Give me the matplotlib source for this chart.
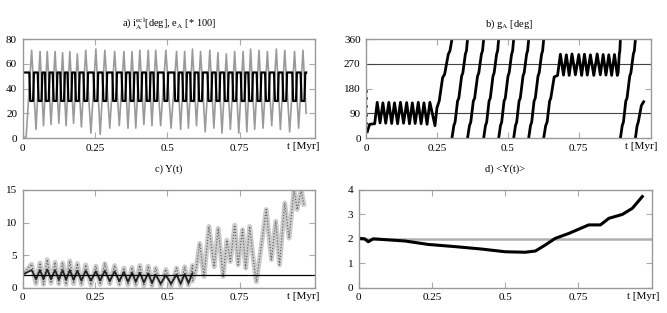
import numpy as np
import matplotlib
matplotlib.use("Agg")
import matplotlib.pyplot as plt
from matplotlib.transforms import blended_transform_factory

plt.rcParams['font.family'] = ['Liberation Serif', 'DejaVu Serif']
plt.rcParams['mathtext.fontset'] = 'stix'

# ---- panel a: inclination (grey) and eccentricity*100 (black) ----
a_start_t = [0.0, 0.012]
a_start_i = [0.0, 1.0]
a_peak_t = [0.031, 0.060, 0.085, 0.112, 0.138, 0.163, 0.189, 0.218, 0.253, 0.284,
            0.318, 0.350, 0.378, 0.405, 0.434, 0.460, 0.495, 0.532, 0.560, 0.587,
            0.615, 0.647, 0.675, 0.704, 0.733, 0.762, 0.788, 0.817, 0.846, 0.877,
            0.906, 0.940, 0.969]
a_peak_i = [71, 70, 70, 70, 69, 70, 68, 71, 72, 71, 70, 70, 70, 71, 71, 71, 71,
            70, 70, 72, 70, 71, 69, 68, 70, 70, 72, 71, 70, 72, 71, 70, 71]
a_trough_t = [0.046, 0.072, 0.098, 0.125, 0.150, 0.176, 0.203, 0.236, 0.268, 0.301,
              0.334, 0.364, 0.391, 0.419, 0.447, 0.477, 0.513, 0.546, 0.573, 0.601,
              0.631, 0.661, 0.689, 0.718, 0.747, 0.775, 0.802, 0.831, 0.861, 0.891,
              0.923, 0.954]
a_trough_i = [7, 10, 11, 12, 10, 12, 9, 4, 3, 8, 10, 8, 8, 11, 10, 10, 8, 7, 8,
              10, 5, 8, 4, 7, 4, 5, 7, 8, 10, 7, 5, 8]
a_end_t, a_end_i = 0.98, 20
e_level = 53
e_dip = 30

# ---- panel b: g_A ----
b_dots_g = [25, 55, 85, 115, 145, 170]
b_lib1_t = [0.004, 0.012, 0.030, 0.039, 0.049, 0.059, 0.069, 0.080, 0.090, 0.100,
            0.111, 0.121, 0.132, 0.143, 0.153, 0.163, 0.173, 0.184, 0.194, 0.204,
            0.215, 0.225, 0.243, 0.250, 0.258, 0.270, 0.277, 0.290, 0.296, 0.303]
b_lib1_g = [23, 50, 52, 130, 55, 128, 54, 130, 53, 128, 52, 130, 54, 129, 52,
            128, 53, 130, 52, 128, 50, 130, 45, 110, 135, 220, 232, 305, 318, 360]
ramp_frac = [0.0, 0.12, 0.20, 0.36, 0.44, 0.62, 0.70, 0.86, 0.93, 1.0]
ramp_deg = [0, 45, 58, 135, 145, 225, 238, 305, 318, 360]
b_ramp_t0 = [0.303, 0.358, 0.415, 0.468, 0.521, 0.574, 0.898]
b_ramp_t1 = [0.358, 0.415, 0.468, 0.521, 0.574, 0.627, 0.951]
b_lib2_t = [0.627, 0.634, 0.639, 0.648, 0.652, 0.664, 0.676, 0.686, 0.697, 0.707,
            0.717, 0.727, 0.739, 0.751, 0.761, 0.771, 0.781, 0.792, 0.804, 0.816,
            0.827, 0.837, 0.847, 0.857, 0.867, 0.877, 0.887, 0.890, 0.894, 0.896,
            0.898]
b_lib2_g = [0, 45, 58, 135, 145, 222, 228, 305, 229, 303, 228, 306, 230, 304,
            228, 305, 229, 303, 228, 306, 230, 304, 229, 303, 228, 304, 228, 238,
            305, 318, 360]
b_last_t = [0.951, 0.957, 0.961, 0.972, 0.976, 0.980]
b_last_g = [0, 45, 58, 118, 125, 132]

# ---- panel c: Y(t) ----
c_peak = [3.6, 3.8, 4.3, 3.9, 3.8, 4.1, 3.7, 3.5, 3.3, 3.7, 3.4, 3.0, 3.1, 3.4,
          3.3, 3.0, 2.8, 3.0, 3.2, 3.4]
c_trough = [0.6, 0.5, 0.7, 0.6, 0.5, 0.6, 0.5, 0.4, 0.5, 0.6, 0.5, 0.4, 0.4, 0.3,
            0.3, 0.2, 0.2, 0.3, 0.4]
c_core_peak = [2.7, 2.7, 2.8, 2.7, 2.7, 2.7, 2.6, 2.6, 2.5, 2.6, 2.5, 2.4, 2.3,
               2.3, 2.2, 2.0, 1.9, 2.0, 2.1, 2.2]
c_core_trough = [1.3, 1.3, 1.3, 1.2, 1.2, 1.2, 1.1, 1.1, 1.1, 1.0, 1.0, 0.9, 0.9,
                 0.8, 0.7, 0.6, 0.6, 0.6, 0.7]
c_late_t = [0.587, 0.600, 0.612, 0.627, 0.644, 0.662, 0.676, 0.693, 0.706, 0.718,
            0.733, 0.745, 0.760, 0.771, 0.785, 0.796, 0.808, 0.842, 0.860, 0.875,
            0.888, 0.906, 0.921, 0.938, 0.949, 0.963, 0.972]
c_late_y = [1.0, 3.0, 6.8, 1.7, 9.4, 3.2, 9.1, 1.7, 7.3, 4.0, 9.6, 3.5, 8.9, 3.0,
            9.4, 4.8, 0.9, 12.0, 4.3, 10.2, 3.5, 13.0, 7.6, 15.0, 12.0, 15.0, 12.8]

# ---- panel d: <Y(t)> ----
d_t = [0.0, 0.020, 0.032, 0.049, 0.158, 0.237, 0.329, 0.420, 0.500, 0.568, 0.603,
       0.637, 0.671, 0.717, 0.785, 0.825, 0.854, 0.900, 0.934, 0.968]
d_y = [2.02, 2.0, 1.88, 2.0, 1.91, 1.77, 1.68, 1.58, 1.47, 1.45, 1.50, 1.75, 2.02,
       2.22, 2.57, 2.57, 2.84, 3.0, 3.25, 3.73]


def zigzag(peak_t, peak_v, trough_t, trough_v):
    tt, vv = [], []
    for k in range(len(peak_t)):
        tt.append(peak_t[k]); vv.append(peak_v[k])
        if k < len(trough_t):
            tt.append(trough_t[k]); vv.append(trough_v[k])
    return tt, vv


def style(ax, xmax, ylim, yticks, title, tpad):
    ax.set_xlim(0, xmax)
    ax.set_ylim(*ylim)
    ax.set_xticks([0, 0.25, 0.5, 0.75])
    ax.set_xticklabels(['0', '0.25', '0.5', '0.75'])
    ax.set_yticks(yticks)
    ax.tick_params(direction='in', top=True, right=True, color='#aaaaaa',
                   length=4, labelsize=8, pad=4)
    for s in ax.spines.values():
        s.set_color('#999999')
        s.set_linewidth(1.0)
    tr = blended_transform_factory(ax.transData, ax.transAxes)
    ax.text(0.97, -0.045, 't [Myr]', transform=tr, ha='center', va='top',
            fontsize=8)
    ax.set_title(title, fontsize=7.5, pad=tpad)


fig = plt.figure(figsize=(6.67, 3.13), dpi=100)
ax_a = fig.add_axes([0.034, 0.559, 0.438, 0.316])
ax_b = fig.add_axes([0.549, 0.559, 0.427, 0.316])
ax_c = fig.add_axes([0.034, 0.081, 0.438, 0.312])
ax_d = fig.add_axes([0.538, 0.081, 0.439, 0.312])

# panel a
zt, zv = zigzag(a_peak_t, a_peak_i, a_trough_t, a_trough_i)
ax_a.plot(a_start_t + zt + [a_end_t], a_start_i + zv + [a_end_i],
          color='#9a9a9a', lw=1.2)
e_t, e_v = [0.0], [e_level]
for tp in a_peak_t:
    e_t += [tp - 0.008, tp - 0.005, tp + 0.005, tp + 0.008]
    e_v += [e_level, e_dip, e_dip, e_level]
e_t.append(a_end_t); e_v.append(e_level)
ax_a.plot(e_t, e_v, color='black', lw=1.6)
style(ax_a, 1.01, (0, 80), [0, 20, 40, 60, 80],
      r'a) i$_\mathrm{A}^\mathrm{ecl}$[deg], e$_\mathrm{A}$ [* 100]', 9)

# panel b
for g in (90, 270):
    ax_b.axhline(g, color='#444444', lw=0.8)
ax_b.plot([0.001] * len(b_dots_g), b_dots_g, ls='none', marker='.', ms=2,
          color='black')
ax_b.plot(b_lib1_t, b_lib1_g, color='black', lw=2)
for t0, t1 in zip(b_ramp_t0, b_ramp_t1):
    ax_b.plot([t0 + f * (t1 - t0) for f in ramp_frac], ramp_deg,
              color='black', lw=2)
ax_b.plot(b_lib2_t, b_lib2_g, color='black', lw=2)
ax_b.plot(b_last_t, b_last_g, color='black', lw=2)
style(ax_b, 1.006, (0, 360), [0, 90, 180, 270, 360],
      r'b) g$_\mathrm{A}$ [deg]', 9)

# panel c
ct, cv = zigzag(a_peak_t[:20], c_peak, a_trough_t[:19], c_trough)
ax_c.plot([0.0] + ct + c_late_t, [2.0] + cv + c_late_y, color='#aaaaaa',
          lw=3.5, alpha=0.6)
ax_c.plot([0.0] + ct + c_late_t, [2.0] + cv + c_late_y, color='#555555',
          lw=0.8, ls=':')
kt, kv = zigzag(a_peak_t[:20], c_core_peak, a_trough_t[:19], c_core_trough)
ax_c.plot([0.0] + kt, [2.0] + kv, color='#222222', lw=1.3)
ax_c.axhline(2, color='black', lw=0.9)
style(ax_c, 1.01, (0, 15), [0, 5, 10, 15], 'c) Y(t)', 13)

# panel d
ax_d.axhline(2, color='#b0b0b0', lw=1.8)
ax_d.plot(d_t, d_y, color='black', lw=2.2)
style(ax_d, 1.0, (0, 4), [0, 1, 2, 3, 4], 'd) <Y(t)>', 13)

fig.savefig('out.png', dpi=100)
